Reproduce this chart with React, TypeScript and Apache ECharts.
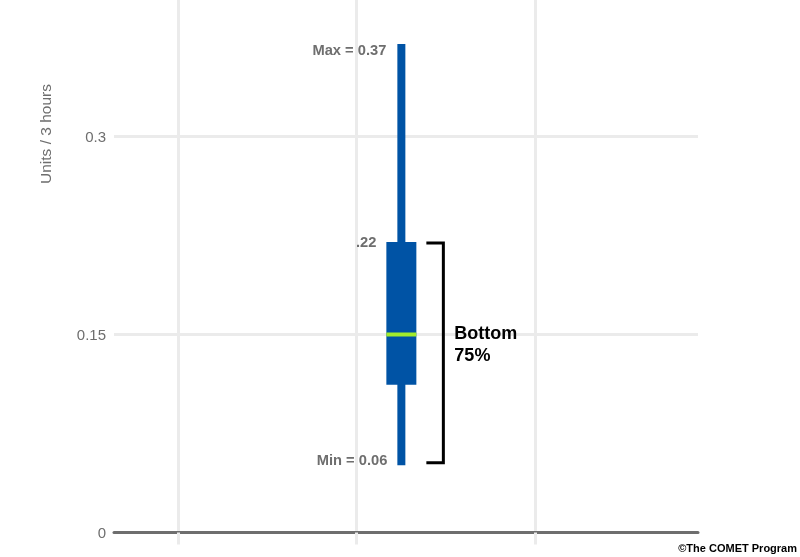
import React, { useEffect, useRef } from "react";
import * as echarts from "echarts";

// ---- data ----
const yTicks = [0, 0.15, 0.3];
const xGridTicks = [0, 1, 2];
const boxPosition = [1.25];
// min, q1, median, q3, max
const boxMin = [0.051];
const boxQ1 = [0.112];
const boxMedian = [0.15];
const boxQ3 = [0.22];
const boxMax = [0.37];
const maxLabel = "Max = 0.37";
const q3Label = ".22";
const minLabel = "Min = 0.06";
const bracketLabel = "Bottom\n75%";
const yAxisName = "Units / 3 hours";
const credit = "©The COMET Program";

const FONT = "'Liberation Sans', Arial, Helvetica, sans-serif";
const BLUE = "#0053a5";
const GREEN = "#a2ec2b";
const GRID = "#ebebeb";
const GRAY = "#6e6e6e";

export default function App() {
  const ref = useRef<HTMLDivElement>(null);
  useEffect(() => {
    if (!ref.current) return;
    const chart = echarts.init(ref.current, undefined, { renderer: "svg" });
    const data = boxPosition.map((x, i) => [x, boxMin[i], boxQ1[i], boxMedian[i], boxQ3[i], boxMax[i]]);
    const option: any = {
      animation: false,
      textStyle: { fontFamily: FONT },
      grid: { left: 114, right: 102, top: 0, bottom: 24.5, containLabel: false },
      xAxis: {
        type: "value",
        min: -0.36,
        max: 2.912,
        axisLine: { show: true, lineStyle: { color: GRAY, width: 3 } },
        axisTick: { show: true, customValues: xGridTicks, length: 12, lineStyle: { color: GRID, width: 3 } },
        axisLabel: { show: false, customValues: xGridTicks },
        splitLine: { show: true, lineStyle: { color: GRID, width: 3 } },
      },
      yAxis: {
        type: "value",
        min: 0,
        max: 0.4034,
        axisLine: { show: false },
        axisTick: { show: false, customValues: yTicks },
        axisLabel: {
          customValues: yTicks,
          color: GRAY,
          fontSize: 15,
          fontFamily: FONT,
          margin: 8,
        },
        splitLine: { show: true, lineStyle: { color: GRID, width: 3 } },
      },
      series: [
        {
          type: "custom",
          data,
          encode: { x: 0, y: [1, 2, 3, 4, 5] },
          z: 5,
          renderItem: (params: any, api: any) => {
            const x = api.value(0);
            const pMin = api.coord([x, api.value(1)]);
            const pQ1 = api.coord([x, api.value(2)]);
            const pMed = api.coord([x, api.value(3)]);
            const pQ3 = api.coord([x, api.value(4)]);
            const pMax = api.coord([x, api.value(5)]);
            const cx = pMin[0];
            const labelStyle = {
              fill: GRAY,
              fontSize: 14.7,
              fontWeight: "bold",
              fontFamily: FONT,
              align: "right",
              verticalAlign: "middle",
            };
            return {
              type: "group",
              children: [
                {
                  type: "rect",
                  shape: { x: cx - 4, y: pMax[1], width: 8, height: pMin[1] - pMax[1] },
                  style: { fill: BLUE },
                },
                {
                  type: "rect",
                  shape: { x: cx - 15, y: pQ3[1], width: 30, height: pQ1[1] - pQ3[1] },
                  style: { fill: BLUE },
                },
                {
                  type: "line",
                  shape: { x1: cx - 15, y1: pMed[1], x2: cx + 15, y2: pMed[1] },
                  style: { stroke: GREEN, lineWidth: 4 },
                },
                {
                  type: "polyline",
                  shape: {
                    points: [
                      [cx + 25, pQ3[1] + 1],
                      [cx + 42, pQ3[1] + 1],
                      [cx + 42, pMin[1] - 2.5],
                      [cx + 25, pMin[1] - 2.5],
                    ],
                  },
                  style: { stroke: "#000", lineWidth: 3, fill: "none", lineJoin: "miter" },
                },
                {
                  type: "text",
                  style: { ...labelStyle, text: maxLabel, x: cx - 15, y: pMax[1] + 6 },
                },
                {
                  type: "text",
                  style: { ...labelStyle, text: q3Label, x: cx - 25, y: pQ3[1] },
                },
                {
                  type: "text",
                  style: { ...labelStyle, text: minLabel, x: cx - 14, y: pMin[1] - 5 },
                },
                {
                  type: "text",
                  style: {
                    text: bracketLabel,
                    x: cx + 53,
                    y: pMed[1] + 10,
                    fill: "#000",
                    fontSize: 18,
                    fontWeight: "bold",
                    fontFamily: FONT,
                    lineHeight: 22,
                    align: "left",
                    verticalAlign: "middle",
                  },
                },
              ],
            };
          },
        },
      ],
      graphic: [
        {
          type: "text",
          x: 45,
          y: 134,
          rotation: Math.PI / 2,
          style: {
            text: yAxisName,
            fill: GRAY,
            fontSize: 15.5,
            fontFamily: FONT,
            align: "center",
            verticalAlign: "middle",
          },
        },
        {
          type: "text",
          x: 797,
          y: 548,
          style: {
            text: credit,
            fill: "#000",
            fontSize: 11,
            fontWeight: "bold",
            fontFamily: FONT,
            align: "right",
            verticalAlign: "middle",
          },
        },
      ],
    };
    chart.setOption(option);
    return () => chart.dispose();
  }, []);
  return (
    <div
      ref={ref}
      style={{ position: "fixed", left: 0, top: 0, width: 800, height: 557 }}
    />
  );
}
